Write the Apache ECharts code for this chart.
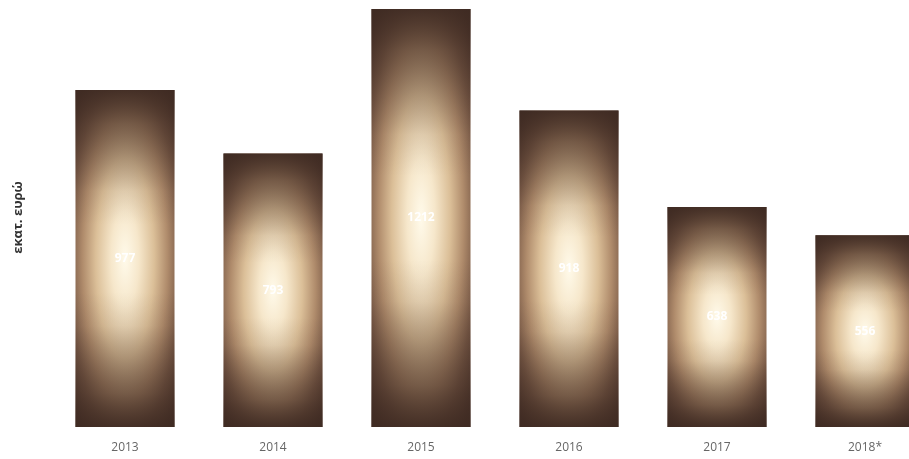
<!DOCTYPE html>
<html>
<head>
<meta charset="utf-8">
<script src="https://cdn.jsdelivr.net/npm/echarts@6/dist/echarts.min.js"></script>
<style>
html,body{margin:0;padding:0;background:#fff;overflow:hidden;width:909px;height:459px;}
#chart{width:939px;height:459px;}
</style>
</head>
<body>
<div id="chart"></div>
<script>
const categories = ['2013', '2014', '2015', '2016', '2017', '2018*'];
const values = [977, 793, 1212, 918, 638, 556];
const yAxisName = 'εκατ. ευρώ';

const glowStops = [
  { offset: 0, color: '#fffaea' },
  { offset: 0.18, color: '#f6e7cb' },
  { offset: 0.38, color: '#dbbf98' },
  { offset: 0.55, color: '#b08c6c' },
  { offset: 0.7, color: '#7d5d49' },
  { offset: 0.85, color: '#533a2f' },
  { offset: 1, color: '#3d2a22' }
];
const shadeStops = [
  { offset: 0, color: 'rgba(62,42,34,0.92)' },
  { offset: 0.1, color: 'rgba(62,42,34,0.55)' },
  { offset: 0.3, color: 'rgba(62,42,34,0.08)' },
  { offset: 0.4, color: 'rgba(62,42,34,0)' },
  { offset: 0.6, color: 'rgba(62,42,34,0)' },
  { offset: 0.7, color: 'rgba(62,42,34,0.08)' },
  { offset: 0.9, color: 'rgba(62,42,34,0.55)' },
  { offset: 1, color: 'rgba(62,42,34,0.92)' }
];

const chart = echarts.init(document.getElementById('chart'), null, { renderer: 'canvas' });

function renderBar(params, api) {
  const idx = api.value(0);
  const v = api.value(1);
  const top = api.coord([idx, v]);
  const bottom = api.coord([idx, 0]);
  const w = api.size([1, 0])[0] * (99 / 148);
  const left = top[0] - w / 2;
  const h = bottom[1] - top[1];
  return {
    type: 'group',
    children: [
      {
        type: 'rect',
        shape: { x: left, y: top[1], width: w, height: w },
        originX: left,
        originY: top[1],
        scaleY: h / w,
        style: { fill: new echarts.graphic.RadialGradient(0.5, 0.5, 0.78, glowStops), stroke: null }
      },
      {
        type: 'rect',
        shape: { x: left, y: top[1], width: w, height: h },
        style: { fill: new echarts.graphic.LinearGradient(0, 0, 0, 1, shadeStops), stroke: null }
      },
      {
        type: 'text',
        style: {
          text: String(v),
          x: top[0],
          y: top[1] + h / 2,
          align: 'center',
          verticalAlign: 'middle',
          fill: '#ffffff',
          font: 'bold 12px "Open Sans"'
        }
      }
    ]
  };
}

chart.setOption({
  animation: false,
  backgroundColor: '#ffffff',
  grid: { left: 51, top: 8, right: 0, bottom: 32, containLabel: false },
  xAxis: {
    type: 'category',
    data: categories,
    axisLine: { show: false },
    axisTick: { show: false },
    axisLabel: { color: '#666', fontFamily: 'Open Sans', fontSize: 12, margin: 15 }
  },
  yAxis: {
    type: 'value',
    min: 0,
    max: 1215,
    axisLine: { show: false },
    axisTick: { show: false },
    axisLabel: { show: false },
    splitLine: { show: false },
    name: yAxisName,
    nameLocation: 'middle',
    nameGap: 26,
    nameRotate: 90,
    nameTextStyle: { color: '#333', fontFamily: 'Open Sans', fontWeight: 'bold', fontSize: 13 }
  },
  series: [
    {
      type: 'custom',
      renderItem: renderBar,
      encode: { x: 0, y: 1 },
      data: values.map((v, i) => [i, v])
    }
  ]
});
</script>
</body>
</html>
